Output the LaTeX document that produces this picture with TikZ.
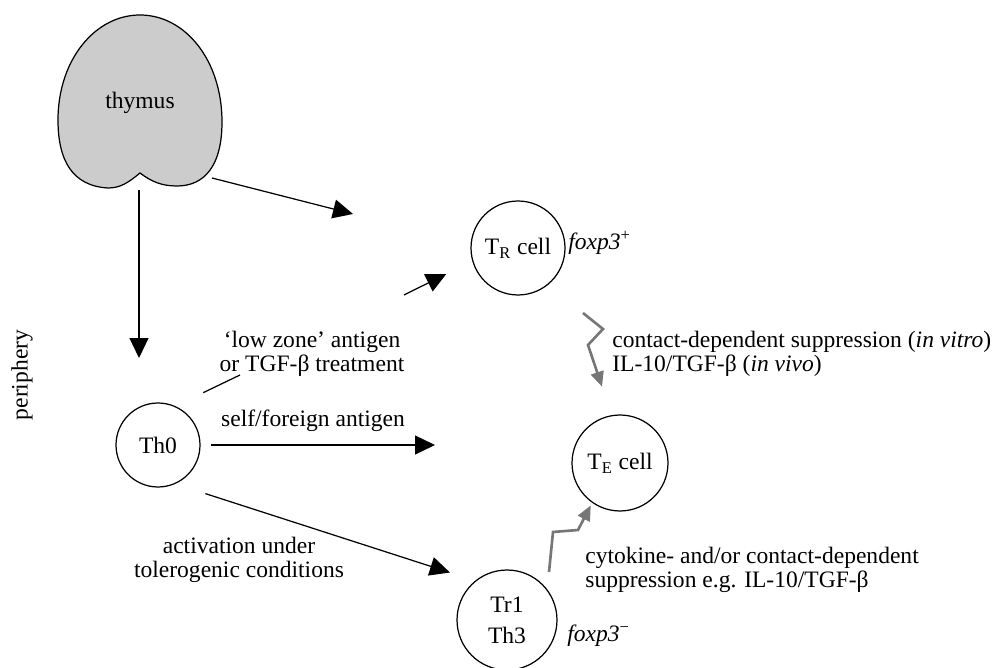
\documentclass[tikz,border=0pt]{standalone}
\usepackage{fontspec}
\setmainfont{Liberation Serif}
\usetikzlibrary{arrows.meta}
\definecolor{thymusgrey}{RGB}{204,204,204}
\definecolor{signalgrey}{RGB}{118,118,118}

\begin{document}
\begin{tikzpicture}[x=0.02cm, y=-0.02cm,
	every node/.style={font=\fontsize{13.4}{13.6}\selectfont},
	cell/.style={draw, circle, line width=0.7pt, inner sep=0pt},
	arr/.style={line width=0.7pt, -{Triangle[length=0.4cm, width=0.38cm]}},
	signal/.style={line width=1.5pt, signalgrey, -{Triangle[length=0.3cm, width=0.26cm]}},
	lbl/.style={align=center, inner sep=0pt},
	side/.style={align=left, anchor=west, inner sep=0pt}]
	\useasboundingbox (0,0) rectangle (997,668);

	\draw[fill=thymusgrey, line width=0.7pt] (140,173) .. controls (128,183) and (120,188) .. (108,188)
		.. controls (72,186) and (58,160) .. (58,120)
		.. controls (58,60) and (95,15) .. (140,15)
		.. controls (185,15) and (222,60) .. (222,122)
		.. controls (222,165) and (205,186) .. (177,186)
		.. controls (162,186) and (152,182) .. (140,173) -- cycle;
	\node (thymus) at (140,103) {thymus};
	\node[rotate=90] (periphery) at (22,375) {periphery};

	\node[cell, minimum size=1.68cm] (th0) at (158,445) {Th0};
	\node[cell, minimum size=1.88cm] (treg) at (518,248) {T\textsubscript{R} cell};
	\node[cell, minimum size=1.92cm] (teff) at (620,463) {T\textsubscript{E} cell};
	\node[cell, minimum size=2cm, align=center] (tr1) at (507,620) {Tr1\\[4pt]Th3};

	\coordinate (thyfoot) at (139,190);
	\coordinate (thyend) at (139,358);
	\coordinate (thyside) at (212,178);
	\coordinate (thyout) at (353,214);
	\coordinate (lowcut) at (240,375);
	\coordinate (highcut) at (404,295);
	\coordinate (selfend) at (435,445);

	\draw[arr] (thyfoot) -- (thyend);
	\draw[arr] (thyside) -- (thyout);
	\draw[line width=0.7pt, shorten <=0.62cm] (th0.66) -- (lowcut);
	\draw[arr, shorten >=0.58cm] (highcut) -- (treg.196);
	\draw[arr, shorten <=0.2cm] (th0) -- (selfend);
	\draw[arr, shorten <=0.63cm, shorten >=0.53cm] (th0.-66) -- (tr1.129);

	\draw[signal, shorten >=0.6cm] (treg) ++(65,65) -- ++(20,16) -- ++(-15,16) -- (teff.100);
	\draw[signal, shorten >=0.06cm] (tr1) ++(42,-48) -- ++(4,-40) -- ++(25,-2) -- (teff.-125);

	\node[lbl] (lowzone) at (312,354) {‘low zone’ antigen\\or TGF-β treatment};
	\node (selflbl) at (313,421) {self/foreign antigen};
	\node[lbl] (actlbl) at (239,560) {activation under\\tolerogenic conditions};
	\node[side] (contactlbl) at (612,354) {contact-dependent suppression (\textit{in vitro})\\IL-10/TGF-β (\textit{in vivo})};
	\node[side] (cytolbl) at (585,570) {cytokine- and/or contact-dependent\\suppression e.g. IL-10/TGF-β};
	\node[side] (foxplus) at (568,243) {\textit{foxp3}\textsuperscript{+}};
	\node[side] (foxminus) at (567,636) {\textit{foxp3}\textsuperscript{−}};
\end{tikzpicture}
\end{document}
